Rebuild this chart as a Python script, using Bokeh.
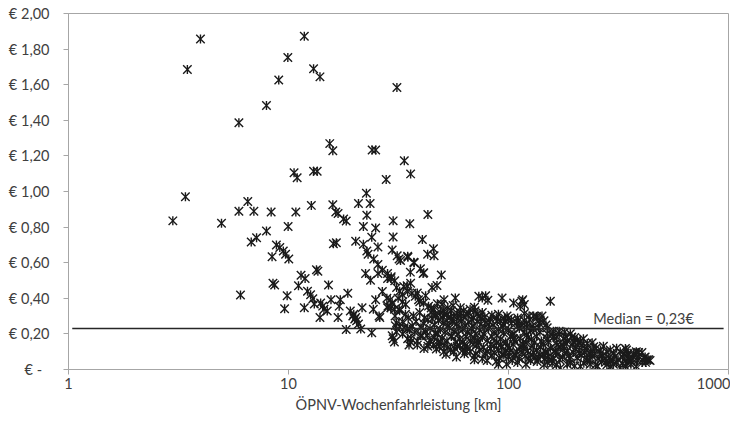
import math
from bokeh.plotting import figure
from bokeh.models import FixedTicker, Range1d, Label, ColumnDataSource
from bokeh.embed import file_html
from bokeh.resources import INLINE

# ---------------- data ----------------
# sparse points, small weekly distances
sparse_km = [2.98, 3.40, 3.47, 3.98, 4.96, 5.95, 5.95, 6.05, 6.53, 6.77,
             6.96, 7.16, 7.94, 7.94, 8.34, 8.42, 8.50, 8.65, 8.81, 9.03,
             9.13, 9.47, 9.60, 9.70, 9.86, 9.93, 9.96, 10.03, 10.6, 10.8,
             10.95, 11.1, 11.4, 11.8, 11.8, 11.9, 12.2, 12.6, 12.7, 12.9,
             13.0, 13.0, 13.1, 13.4, 13.6, 13.5, 13.9, 13.9, 14.0, 14.3,
             14.5, 15.0, 15.2, 15.4, 15.6, 15.9, 15.9, 16.0, 16.4, 16.5,
             16.8, 16.8, 17.0, 17.2, 17.8, 18.3, 18.3, 18.6, 19.1, 19.8,
             20.2, 20.2, 20.4, 20.8]
sparse_eur = [0.835, 0.971, 1.685, 1.857, 0.822, 1.386, 0.889, 0.418, 0.944, 0.716,
              0.889, 0.740, 1.483, 0.778, 0.885, 0.634, 0.484, 0.475, 0.699, 1.627,
              0.685, 0.666, 0.341, 0.648, 0.414, 1.753, 0.803, 0.621, 1.105, 0.885,
              1.077, 0.470, 0.529, 1.872, 0.347, 0.511, 0.440, 0.420, 0.922, 0.398,
              1.689, 1.114, 0.368, 0.561, 0.552, 1.114, 1.644, 0.292, 0.374, 0.356,
              0.338, 0.329, 0.475, 1.269, 0.392, 1.229, 0.926, 0.707, 0.885, 0.712,
              0.877, 0.292, 0.356, 0.392, 0.846, 0.834, 0.225, 0.429, 0.329, 0.310,
              0.721, 0.292, 0.274, 0.932]

# medium distances
mid_km = [23.5, 22.6, 22.7, 21.9, 24.9, 29.9, 35.6, 43.0, 21.9, 22.7,
          23.0, 23.9, 25.5, 24.4, 25.5, 26.7, 28.2, 29.3, 30.4, 29.9,
          29.6, 31.2, 32.3, 34.8, 31.8, 37.3, 40.6, 42.9, 45.6, 45.9,
          41.2, 35.8, 49.5, 47.3, 44.9, 35.9, 34.6, 33.4, 34.8, 22.4,
          23.6, 21.6, 21.3, 23.9, 24.3, 25.8, 24.9, 26.7, 25.5, 28.0,
          29.0, 29.6, 29.2, 28.3, 30.3, 31.8, 19.6, 20.0, 20.8, 30.6,
          32.0, 33.5, 34.8, 29.6, 30.3, 29.9, 34.8, 35.3, 31.0, 33.0,
          26.0, 28.2, 29.2, 28.2, 39.8, 40.9, 31.0, 32.0, 33.0, 31.5,
          33.0, 32.0, 30.5, 34.0, 33.0, 31.0, 35.0, 37.1, 34.9, 33.6,
          35.9, 27.8, 31.1, 24.0, 24.9]
mid_eur = [0.932, 0.990, 0.867, 0.803, 0.795, 0.835, 0.819, 0.871, 0.703, 0.666,
           0.648, 0.743, 0.688, 0.621, 0.590, 0.557, 0.539, 0.521, 0.499, 0.745,
           0.671, 0.639, 0.612, 0.636, 0.621, 0.600, 0.730, 0.648, 0.678, 0.639,
           0.544, 0.547, 0.531, 0.472, 0.461, 0.484, 0.470, 0.466, 0.438, 0.539,
           0.502, 0.347, 0.228, 0.206, 0.338, 0.301, 0.392, 0.438, 0.539, 0.400,
           0.392, 0.374, 0.347, 0.356, 0.338, 0.338, 0.301, 0.283, 0.256, 0.246,
           0.240, 0.235, 0.228, 0.190, 0.155, 0.173, 0.173, 0.137, 0.210, 0.200,
           0.292, 0.511, 0.511, 0.347, 0.566, 0.539, 0.460, 0.440, 0.420, 0.400,
           0.380, 0.330, 0.300, 0.310, 0.270, 0.262, 0.290, 0.603, 0.630, 1.173,
           1.099, 1.068, 1.584, 1.233, 1.233]

# dense cluster, large distances
cluster_km = [36.4, 37.7, 39.0, 38.5, 42.0, 57.3, 73.3, 76.0, 78.7, 80.6,
              93.5, 105.5, 113.0, 115.0, 116.0, 118.0, 155.0, 34.1, 39.5, 41.1,
              43.3, 45.7, 47.5, 49.9, 50.9, 53.0, 56.0, 60.4, 66.9, 70.0,
              44.5, 46.5, 49.0, 51.0, 52.6, 54.5, 56.4, 58.5, 60.4, 62.5,
              64.8, 69.4, 72.0, 74.3, 78.0, 82.7, 88.0, 98.5, 96.7, 100.0,
              111.0, 130.0, 134.0, 142.0, 145.0, 135.0, 121.0, 109.0, 91.9, 38.0,
              41.0, 43.0, 46.0, 48.0, 50.5, 53.0, 55.5, 58.0, 61.0, 63.5,
              66.0, 69.0, 72.0, 75.0, 79.0, 85.0, 95.0, 103.0, 115.0, 128.0,
              138.0, 148.0, 36.5, 35.5, 37.5, 40.0, 42.0, 44.0, 46.5, 49.0,
              51.5, 54.0, 56.5, 59.0, 62.0, 65.0, 68.0, 71.0, 74.0, 77.2,
              81.0, 86.0, 90.0, 95.0, 100.0, 106.0, 112.0, 118.0, 121.0, 126.0,
              130.0, 139.0, 150.0, 160.0, 170.0, 191.0, 121.0, 105.5, 42.7, 39.8,
              36.0, 38.5, 44.0, 46.0, 48.0, 50.0, 52.5, 55.0, 57.5, 60.0,
              62.0, 64.0, 67.0, 70.0, 73.0, 76.0, 80.0, 84.0, 88.0, 92.0,
              97.0, 102.0, 107.0, 113.0, 120.0, 127.0, 134.0, 141.0, 150.0, 160.0,
              166.0, 178.0, 185.0, 194.0, 205.0, 219.0, 228.0, 216.0, 91.9, 49.0,
              38.5, 41.3, 43.0, 45.7, 47.0, 50.8, 53.0, 56.3, 58.5, 62.0,
              65.0, 66.9, 69.0, 71.6, 74.0, 77.0, 80.0, 82.7, 86.0, 90.0,
              93.0, 97.0, 101.0, 105.0, 109.0, 113.0, 117.0, 117.0, 122.0, 128.0,
              134.0, 140.0, 147.0, 155.0, 163.0, 172.0, 185.0, 201.0, 227.0, 244.0,
              262.0, 280.0, 300.0, 322.0, 344.0, 371.0, 60.0, 48.5, 54.5, 35.9,
              52.0, 58.0, 63.0, 70.0, 76.0, 84.0, 91.0, 95.2, 100.0, 106.0,
              112.0, 119.0, 126.0, 132.0, 139.0, 146.0, 152.0, 160.0, 168.0, 176.0,
              190.0, 205.0, 214.0, 228.0, 240.0, 255.0, 268.0, 286.0, 291.0, 305.0,
              330.0, 346.0, 359.0, 371.0, 391.0, 404.0, 412.0, 427.0, 434.0, 381.0,
              88.0, 98.0, 110.0, 135.0, 145.0, 158.0, 172.0, 185.0, 191.0, 212.0,
              220.0, 249.0, 254.0, 276.0, 280.0, 291.0, 322.0, 340.0, 346.0, 381.0,
              420.0, 360.0, 310.0, 340.0, 126.0, 228.0,
              198.0, 166.0, 178.0, 183.0, 210.0, 236.0]
cluster_eur = [0.429, 0.411, 0.392, 0.430, 0.415, 0.402, 0.411, 0.402, 0.414, 0.389,
               0.402, 0.374, 0.356, 0.384, 0.392, 0.365, 0.384, 0.365, 0.380, 0.374,
               0.356, 0.338, 0.370, 0.365, 0.392, 0.345, 0.360, 0.347, 0.338, 0.350,
               0.320, 0.300, 0.320, 0.310, 0.310, 0.295, 0.301, 0.315, 0.320, 0.300,
               0.310, 0.292, 0.310, 0.301, 0.295, 0.283, 0.290, 0.301, 0.274, 0.287,
               0.274, 0.301, 0.298, 0.301, 0.274, 0.292, 0.256, 0.265, 0.274, 0.270,
               0.260, 0.280, 0.250, 0.275, 0.260, 0.245, 0.270, 0.255, 0.270, 0.250,
               0.265, 0.245, 0.270, 0.255, 0.265, 0.250, 0.255, 0.260, 0.250, 0.245,
               0.260, 0.250, 0.245, 0.225, 0.210, 0.235, 0.215, 0.230, 0.205, 0.225,
               0.210, 0.235, 0.215, 0.200, 0.225, 0.210, 0.230, 0.200, 0.220, 0.200,
               0.230, 0.210, 0.225, 0.205, 0.220, 0.200, 0.230, 0.210, 0.237, 0.220,
               0.228, 0.210, 0.201, 0.215, 0.200, 0.201, 0.192, 0.173, 0.192, 0.190,
               0.175, 0.160, 0.165, 0.180, 0.150, 0.175, 0.160, 0.185, 0.155, 0.170,
               0.155, 0.185, 0.160, 0.175, 0.150, 0.180, 0.165, 0.185, 0.150, 0.170,
               0.155, 0.185, 0.160, 0.175, 0.150, 0.170, 0.185, 0.160, 0.175, 0.182,
               0.182, 0.173, 0.160, 0.182, 0.165, 0.173, 0.146, 0.137, 0.140, 0.155,
               0.137, 0.118, 0.130, 0.137, 0.115, 0.100, 0.125, 0.100, 0.130, 0.110,
               0.125, 0.100, 0.140, 0.137, 0.110, 0.125, 0.100, 0.118, 0.135, 0.105,
               0.125, 0.100, 0.120, 0.140, 0.100, 0.125, 0.137, 0.118, 0.105, 0.130,
               0.110, 0.125, 0.100, 0.120, 0.105, 0.125, 0.104, 0.118, 0.110, 0.128,
               0.110, 0.100, 0.091, 0.100, 0.110, 0.091, 0.135, 0.128, 0.112, 0.155,
               0.085, 0.070, 0.088, 0.075, 0.060, 0.080, 0.065, 0.082, 0.070, 0.085,
               0.060, 0.075, 0.082, 0.065, 0.080, 0.060, 0.075, 0.064, 0.085, 0.070,
               0.060, 0.064, 0.080, 0.064, 0.075, 0.060, 0.080, 0.064, 0.055, 0.075,
               0.070, 0.073, 0.045, 0.082, 0.073, 0.095, 0.064, 0.055, 0.055, 0.100,
               0.045, 0.030, 0.040, 0.045, 0.027, 0.035, 0.009, 0.030, 0.036, 0.018,
               0.035, 0.027, 0.018, 0.040, 0.027, 0.018, 0.009, 0.018, 0.036, 0.018,
               0.040, 0.030, 0.040, 0.118, 0.050, 0.050,
               0.155, 0.137, 0.128, 0.146, 0.110, 0.100]

# further overlapping observations inside the dense cluster
dense_km = [40.5, 43.5, 47.5, 51.0, 55.0, 59.5, 63.0, 67.5, 72.5, 78.0,
            83.0, 88.5, 94.0, 99.0, 104.0, 110.0, 116.0, 123.0, 131.0, 137.0,
            144.0, 152.0, 158.0, 165.0, 175.0, 182.0, 196.0, 208.0, 222.0, 235.0,
            45.0, 50.0, 55.0, 61.0, 68.0, 75.0, 82.0, 89.0, 96.0, 103.0,
            110.0, 118.0, 125.0, 57.0, 64.0, 71.0, 78.5, 86.0, 93.5, 101.0,
            108.0, 115.0, 123.0, 130.0, 137.0, 144.0, 150.0, 157.0, 164.0, 171.0,
            180.0, 188.0, 197.0, 210.0, 222.0, 233.0, 246.0, 260.0, 275.0, 296.0,
            315.0, 335.0, 352.0, 365.0, 385.0, 406.0, 418.0, 440.0, 70.0, 80.0,
            90.0, 104.0, 120.0, 150.0, 165.0, 200.0, 235.0, 265.0, 300.0, 330.0,
            37.0, 39.5, 41.5, 44.5, 46.5, 50.5, 52.5, 55.0, 59.0, 62.5,
            66.0, 70.5, 76.0, 84.0, 90.0, 118.0, 124.0, 139.0, 150.0, 170.0,
            180.0, 200.0, 212.0, 240.0, 250.0, 270.0, 290.0, 310.0, 350.0, 390.0]
dense_eur = [0.190, 0.145, 0.200, 0.135, 0.190, 0.230, 0.140, 0.195, 0.165, 0.235,
             0.140, 0.190, 0.240, 0.135, 0.195, 0.245, 0.145, 0.180, 0.150, 0.235,
             0.140, 0.155, 0.195, 0.150, 0.140, 0.185, 0.140, 0.150, 0.120, 0.090,
             0.285, 0.290, 0.280, 0.285, 0.280, 0.285, 0.265, 0.270, 0.290, 0.280,
             0.290, 0.275, 0.280, 0.120, 0.105, 0.090, 0.090, 0.095, 0.085, 0.095,
             0.080, 0.095, 0.060, 0.095, 0.060, 0.085, 0.095, 0.050, 0.095, 0.055,
             0.090, 0.080, 0.095, 0.090, 0.095, 0.050, 0.090, 0.085, 0.060, 0.050,
             0.055, 0.090, 0.060, 0.060, 0.050, 0.040, 0.070, 0.050, 0.055, 0.050,
             0.030, 0.050, 0.030, 0.040, 0.025, 0.020, 0.030, 0.045, 0.030, 0.035,
             0.300, 0.320, 0.290, 0.345, 0.310, 0.330, 0.275, 0.330, 0.290, 0.330,
             0.315, 0.330, 0.320, 0.305, 0.310, 0.315, 0.300, 0.280, 0.235, 0.215,
             0.210, 0.180, 0.160, 0.150, 0.120, 0.130, 0.110, 0.120, 0.090, 0.095]

median_value = 0.23
median_label = "Median = 0,23€"
median_line_km = [1.04, 950.0]

x_ticks = [1, 10, 100, 1000]
x_tick_labels = ["1", "10", "100", "1000"]
y_ticks = [0.0, 0.2, 0.4, 0.6, 0.8, 1.0, 1.2, 1.4, 1.6, 1.8, 2.0]
y_tick_labels = ["€ -\u00a0\u00a0", "€ 0,20", "€ 0,40", "€ 0,60", "€ 0,80", "€ 1,00",
                 "€ 1,20", "€ 1,40", "€ 1,60", "€ 1,80", "€ 2,00"]
x_title = "ÖPNV-Wochenfahrleistung [km]"

distance_km = sparse_km + mid_km + cluster_km + dense_km
cost_eur = sparse_eur + mid_eur + cluster_eur + dense_eur
assert len(distance_km) == len(cost_eur)

# ---------------- figure ----------------
FONT = "Lato"
TXT = "#404040"
GRAY = "#a6a6a6"
MARK = "#1a1a1a"

p = figure(width=730, height=415, x_axis_type="log",
           x_range=Range1d(1, 1000), y_range=Range1d(0, 2),
           output_backend="svg", toolbar_location=None,
           min_border_left=68, min_border_right=2,
           min_border_top=13, min_border_bottom=40)
p.background_fill_color = "white"
p.border_fill_color = "white"
p.outline_line_color = GRAY
p.outline_line_width = 1
p.xgrid.visible = False
p.ygrid.visible = False

src = ColumnDataSource(dict(x=distance_km, y=cost_eur))
# Excel-style star marker: an "x" with a vertical stroke
p.scatter("x", "y", source=src, marker="x", size=12,
          line_color=MARK, line_width=1.4)
p.scatter("x", "y", source=src, marker="dash", angle=math.pi / 2, size=9,
          line_color=MARK, line_width=1.4)
p.line(median_line_km, [median_value, median_value],
       line_color="#262626", line_width=1.5)
p.add_layout(Label(x=243, y=median_value, text=median_label,
                   text_font=FONT, text_font_size="14.5px", text_color=TXT,
                   text_baseline="bottom", y_offset=2))

xa = p.xaxis[0]
xa.ticker = FixedTicker(ticks=x_ticks)
xa.major_label_overrides = {t: l for t, l in zip(x_ticks, x_tick_labels)}
ya = p.yaxis[0]
ya.ticker = FixedTicker(ticks=y_ticks)
ya.major_label_overrides = {t: l for t, l in zip(y_ticks, y_tick_labels)}

for ax in (xa, ya):
    ax.axis_line_color = GRAY
    ax.major_tick_line_color = GRAY
    ax.major_tick_out = 5
    ax.major_tick_in = 0
    ax.minor_tick_out = 0
    ax.minor_tick_in = 0
    ax.major_label_text_font = FONT
    ax.major_label_text_font_size = "14.5px"
    ax.major_label_text_color = TXT

ya.major_label_standoff = 14
xa.major_label_standoff = 3
xa.axis_label = x_title
xa.axis_label_text_font = FONT
xa.axis_label_text_font_size = "14.5px"
xa.axis_label_text_font_style = "normal"
xa.axis_label_text_color = TXT
xa.axis_label_standoff = 4

open("out.html", "w").write(file_html(p, INLINE))
